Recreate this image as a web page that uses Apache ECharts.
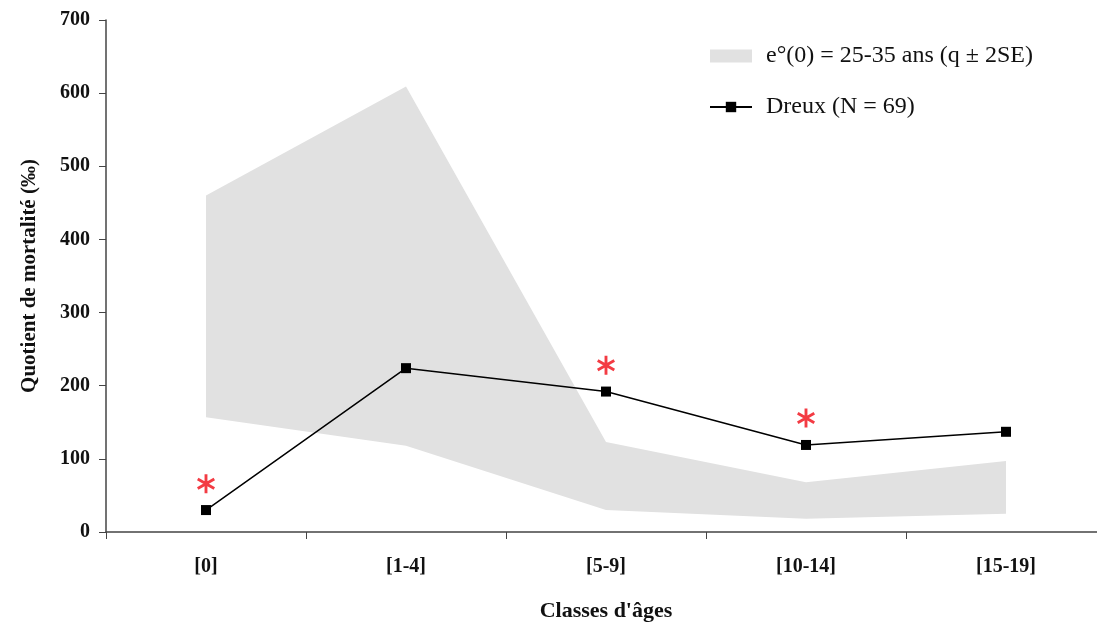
<!DOCTYPE html>
<html>
<head>
<meta charset="utf-8">
<script src="https://cdn.jsdelivr.net/npm/echarts@6/dist/echarts.min.js"></script>
<style>
  html, body { margin: 0; padding: 0; background: #fff; }
  #chart { width: 1097px; height: 623px; }
</style>
</head>
<body>
<div id="chart"></div>
<script>
const categories = ['[0]', '[1-4]', '[5-9]', '[10-14]', '[15-19]'];
const dreux = [30, 224, 192, 119, 137];
const bandLower = [157, 118, 30, 18, 25];
const bandUpper = [460, 609, 123, 68, 97];
// asterisques (différence significative)
const starValues = [66, null, 228, 156, null];

const bandName = 'e°(0) = 25-35 ans (q ± 2SE)';
const lineName = 'Dreux (N = 69)';
const serif = '"Liberation Serif", "Times New Roman", serif';

// asterisque a 6 branches
const starPath = 'path://M-1.5,-10L1.5,-10L1.5,10L-1.5,10Z' +
  'M7.91,-6.30L9.41,-3.70L-7.91,6.30L-9.41,3.70Z' +
  'M-9.41,-3.70L-7.91,-6.30L9.41,3.70L7.91,6.30Z';

const chart = echarts.init(document.getElementById('chart'));
const option = {
  backgroundColor: '#fff',
  animation: false,
  grid: { left: 106, top: 20, width: 1000, height: 512, outerBoundsMode: 'none' },
  legend: {
    orient: 'vertical',
    left: 704,
    top: 39,
    itemWidth: 42,
    itemHeight: 13,
    itemGap: 27,
    textStyle: { fontFamily: serif, fontSize: 24, color: '#111', padding: [0, 0, 0, 9] },
    data: [
      { name: bandName, icon: 'rect', itemStyle: { color: '#e1e1e1' } },
      { name: lineName }
    ]
  },
  xAxis: {
    type: 'category',
    data: categories,
    boundaryGap: true,
    name: 'Classes d\'âges',
    nameLocation: 'middle',
    nameGap: 68,
    nameTextStyle: { fontFamily: serif, fontSize: 22, fontWeight: 'bold', color: '#111' },
    axisLine: { lineStyle: { color: '#444', width: 1.5 } },
    axisTick: { show: true, length: 7, alignWithLabel: false, lineStyle: { color: '#444' } },
    axisLabel: { fontFamily: serif, fontSize: 20, fontWeight: 'bold', color: '#111', margin: 25 },
    splitLine: { show: false }
  },
  yAxis: {
    type: 'value',
    min: 0,
    max: 700,
    interval: 100,
    name: 'Quotient de mortalité (‰)',
    nameLocation: 'middle',
    nameGap: 66,
    nameRotate: 90,
    nameTextStyle: { fontFamily: serif, fontSize: 21, fontWeight: 'bold', color: '#111' },
    axisLine: { show: true, lineStyle: { color: '#444', width: 1.5 } },
    axisTick: { show: true, length: 7, lineStyle: { color: '#444' } },
    axisLabel: { fontFamily: serif, fontSize: 20, fontWeight: 'bold', color: '#111', margin: 16 },
    splitLine: { show: false }
  },
  series: [
    {
      name: 'lower',
      type: 'line',
      stack: 'band',
      data: bandLower,
      symbol: 'none',
      lineStyle: { width: 0, opacity: 0 },
      silent: true
    },
    {
      name: bandName,
      type: 'line',
      stack: 'band',
      data: bandUpper.map((v, i) => v - bandLower[i]),
      symbol: 'none',
      lineStyle: { width: 0, opacity: 0 },
      itemStyle: { color: '#e1e1e1' },
      areaStyle: { color: '#e1e1e1', opacity: 1 },
      silent: true
    },
    {
      name: lineName,
      type: 'line',
      data: dreux,
      symbol: 'rect',
      symbolSize: 10,
      itemStyle: { color: '#000' },
      lineStyle: { color: '#000', width: 1.5 },
      z: 5
    },
    {
      name: 'stars',
      type: 'scatter',
      data: starValues,
      symbol: starPath,
      symbolSize: [18, 19],
      itemStyle: { color: '#f00a14' },
      z: 6
    }
  ]
};
chart.setOption(option);
</script>
</body>
</html>
